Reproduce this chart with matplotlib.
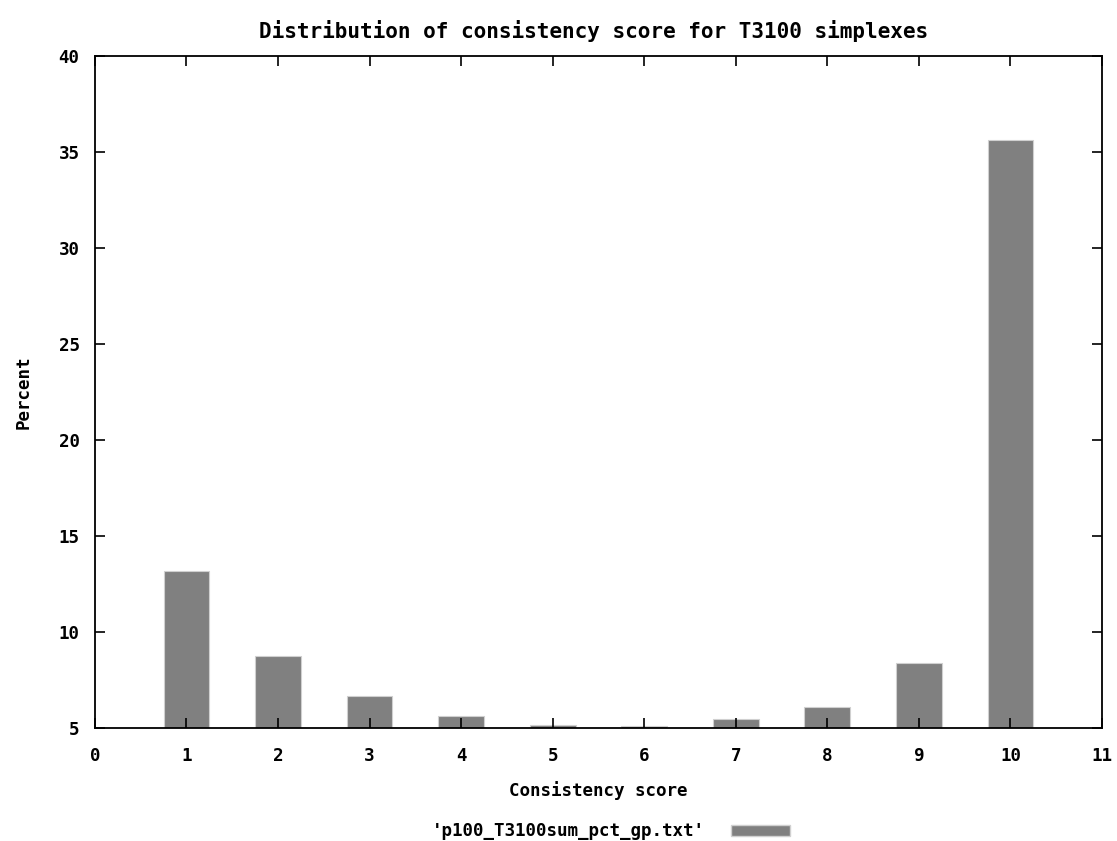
import numpy as np
import matplotlib.pyplot as plt
from matplotlib.patches import Patch

scores = [1, 2, 3, 4, 5, 6, 7, 8, 9, 10]
percent = [13.15, 8.75, 6.67, 5.64, 5.18, 5.09, 5.45, 6.11, 8.36, 35.6]
xticks = list(range(0, 12))
yticks = [5, 10, 15, 20, 25, 30, 35, 40]

plt.rcParams['font.family'] = ['DejaVu Sans Mono']
plt.rcParams['font.weight'] = 'bold'
plt.rcParams['font.size'] = 12.6

fig = plt.figure(figsize=(11.17, 8.41), dpi=100)
ax = fig.add_axes([0.085, 0.1344, 0.9016, 0.799])

ax.bar(scores, np.array(percent) - 5, width=0.5, bottom=5, color='#808080',
       edgecolor='#d0d0d0', linewidth=0.8)

ax.set_xlim(0, 11)
ax.set_ylim(5, 40)
ax.set_xticks(xticks)
ax.set_yticks(yticks)
ax.tick_params(direction='in', top=True, right=True, length=7, width=1.2)
ax.tick_params(axis='x', pad=14)
ax.tick_params(axis='y', pad=11)
for s in ax.spines.values():
    s.set_linewidth(1.3)

ax.set_title('Distribution of consistency score for T3100 simplexes', pad=13,
             fontweight='bold', x=0.495)
ax.set_xlabel('Consistency score', labelpad=11, fontweight='bold')
ax.set_ylabel('Percent', labelpad=19, fontweight='bold')

fig.legend(handles=[Patch(facecolor='#808080', edgecolor='#d0d0d0')],
           labels=["'p100_T3100sum_pct_gp.txt'"], loc='lower center',
           bbox_to_anchor=(0.547, -0.018), frameon=False, markerfirst=False,
           handlelength=3.4, handleheight=0.6, handletextpad=1.5)

plt.savefig('out.png')
